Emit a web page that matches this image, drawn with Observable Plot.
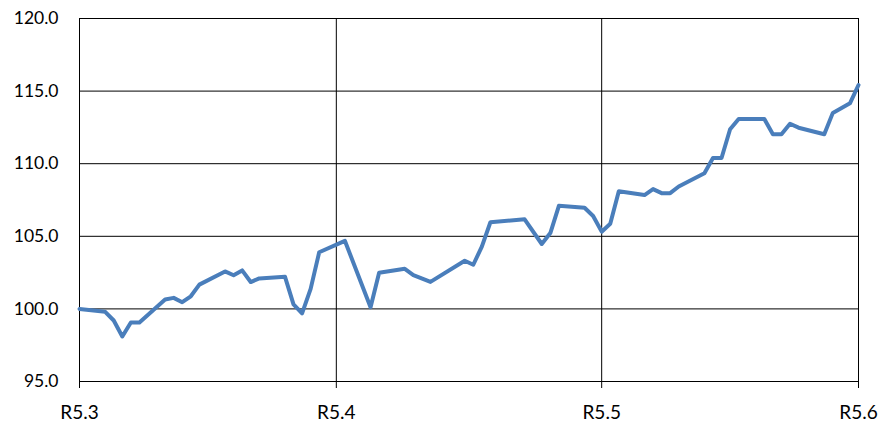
<!DOCTYPE html>
<html><head><meta charset="utf-8">
<script src="https://cdn.jsdelivr.net/npm/d3@7"></script>
<script src="https://cdn.jsdelivr.net/npm/@observablehq/plot@0.6"></script>
<style>html,body{margin:0;padding:0;background:#fff} svg{display:block}</style>
</head><body><div id="chart"></div>
<script>
// day offset from the first observation
const day = [0, 3, 4, 5, 6, 7, 10, 11, 12, 13, 14, 17, 18, 19, 20, 21, 24, 25, 26, 27, 28, 31,
  34, 35, 38, 39, 41, 45, 46, 47, 48, 52, 54, 55, 56, 59, 60, 61, 62, 63, 66, 67, 68, 69, 70,
  73, 74, 75, 76, 77, 80, 81, 82, 83, 84, 87, 88, 90, 91];
const value = [100.0, 99.8, 99.2, 98.1, 99.06, 99.06, 100.65, 100.76, 100.46, 100.87, 101.67,
  102.58, 102.32, 102.65, 101.85, 102.1, 102.22, 100.31, 99.69, 101.38, 103.9, 104.69,
  100.12, 102.49, 102.76, 102.33, 101.86, 103.32, 103.04, 104.29, 105.97, 106.17, 104.47, 105.22, 107.1,
  106.97, 106.4, 105.32, 105.86, 108.1, 107.84, 108.25, 107.97, 107.97, 108.43,
  109.34, 110.39, 110.39, 112.37, 113.08, 113.08, 112.03, 112.03, 112.75, 112.48,
  112.03, 113.5, 114.16, 115.42];
const tickDays = [0, 30, 61, 91];
const tickLabels = ["R5.3", "R5.4", "R5.5", "R5.6"];
const yTicks = [95, 100, 105, 110, 115, 120];

const data = day.map((d, i) => ({day: d, value: value[i]}));

const chart = Plot.plot({
  width: 880, height: 422,
  marginLeft: 79, marginRight: 22, marginTop: 18, marginBottom: 41,
  style: {fontFamily: "Lato", background: "#fff", color: "#000"},
  x: {domain: [0, 91]},
  y: {domain: [95, 120]},
  marks: [
    Plot.ruleY(yTicks, {stroke: "#000", strokeWidth: 1}),
    Plot.ruleX(tickDays, {stroke: "#000", strokeWidth: 1}),
    Plot.axisY(yTicks, {tickSize: 0, tickPadding: 21, tickFormat: d => d.toFixed(1), fontSize: 17.5, label: null}),
    Plot.axisX(tickDays, {tickSize: 7, tickPadding: 17, tickFormat: d => tickLabels[tickDays.indexOf(d)], fontSize: 19, label: null}),
    Plot.lineY(data, {x: "day", y: "value", stroke: "#4a7ebb", strokeWidth: 4, strokeLinejoin: "round", strokeLinecap: "round"})
  ]
});
document.getElementById("chart").appendChild(chart);
</script>
</body></html>
